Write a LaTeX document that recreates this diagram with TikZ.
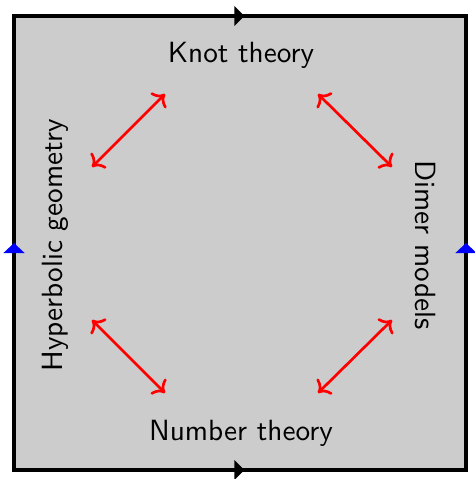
\documentclass[tikz,border=0pt]{standalone}
\usetikzlibrary{arrows.meta,decorations.markings}
\tikzset{
  field/.style={fill=black!20},
  rim/.style={draw=black, line width=1.1pt, line cap=rect},
  rimright/.style={rim, postaction={decorate}, decoration={markings, mark=at position 0.51 with {\arrow{Triangle[length=3.6pt,width=6.8pt]}}}},
  rimup/.style={rim, postaction={decorate}, decoration={markings, mark=at position 0.5 with {\arrow[blue]{Triangle[length=3.6pt,width=7.4pt]}}}},
  topic/.style={font=\sffamily\fontsize{10.4}{12}\selectfont, inner sep=2pt},
  link/.style={<->, red, line width=0.95pt}
}
\begin{document}
\begin{tikzpicture}[x=0.0125cm, y=0.0125cm]
\useasboundingbox (0,0) rectangle (475,479);
% the square
\coordinate (sw) at (14,9);
\coordinate (se) at (466,9);
\coordinate (nw) at (14,463);
\coordinate (ne) at (466,463);
\fill[field] (sw) rectangle (ne);
\draw[rimright] (sw) -- (se);
\draw[rimright] (nw) -- (ne);
\draw[rimup] (sw) -- (nw);
\draw[rimup] (se) -- (ne);
% topics
\node[topic] (knot) at (241,424) {Knot theory};
\node[topic] (number) at (241,46) {Number theory};
\node[topic, rotate=90] (hyper) at (55,234) {Hyperbolic geometry};
\node[topic, rotate=-90] (dimer) at (425,234) {Dimer models};
% links
\coordinate (a1) at (92,312);  \coordinate (b1) at (165,385);
\coordinate (a2) at (318,385); \coordinate (b2) at (392,312);
\coordinate (a3) at (92,159);  \coordinate (b3) at (165,86);
\coordinate (a4) at (318,86);  \coordinate (b4) at (392,159);
\foreach \i in {1,...,4} {\draw[link] (a\i) -- (b\i);}
\end{tikzpicture}
\end{document}
